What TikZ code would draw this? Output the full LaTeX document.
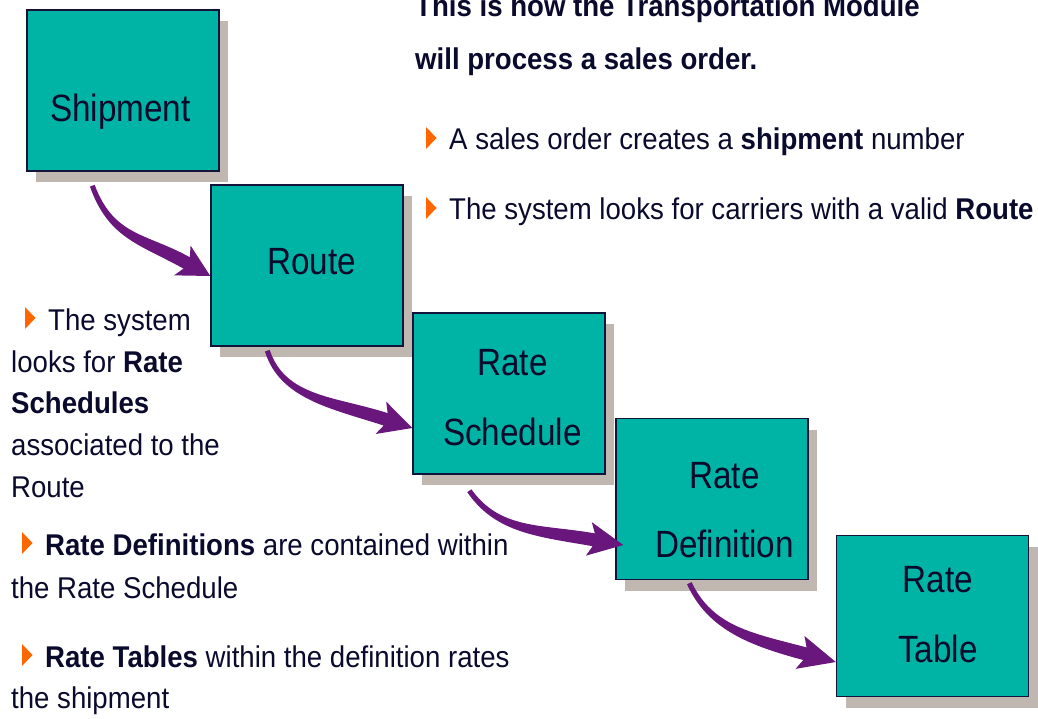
\documentclass[tikz,border=0pt]{standalone}
\usepackage{fontspec}
\setmainfont{Liberation Sans}[FakeStretch=0.92]
\newfontfamily\boxfont{Liberation Sans}[FakeStretch=0.875]
\usetikzlibrary{calc,shadows}
\definecolor{tealc}{RGB}{0,180,165}
\definecolor{shadowc}{RGB}{192,184,176}
\definecolor{arrowc}{RGB}{105,22,125}
\definecolor{edgec}{RGB}{18,18,58}
\definecolor{textc}{RGB}{10,10,45}
\definecolor{bulletc}{RGB}{255,102,0}

\tikzset{
  stepbox/.style={rectangle, draw=edgec, line width=1.4pt, fill=tealc,
    minimum width=192pt, minimum height=161pt, inner sep=0pt,
    drop shadow={shadow xshift=9pt, shadow yshift=-11pt, fill=shadowc, opacity=1}},
  boxtxt/.style={anchor=base, inner sep=0pt, text=textc, font=\boxfont\fontsize{38}{45}\selectfont},
  bodytxt/.style={anchor=base west, inner sep=0pt, text=textc, font=\fontsize{30}{36}\selectfont},
  titletxt/.style={anchor=base west, inner sep=0pt, text=textc, font=\bfseries\fontsize{30}{36}\selectfont},
}

% tapered curved arrow: #1 tail, #2 tip, #3 out angle, #4 tip direction, #5 L1, #6 L2, #7 head length
\newcommand\taperarrow[7]{%
  \coordinate (tA) at (#1);
  \coordinate (tB) at (#2);
  \coordinate (tH) at ($(tB)+(#4:-#7)$);
  \fill[arrowc]
    ($(tA)+(#3+90:2.5)$)
      .. controls ($(tA)+(#3:#5)+(#3+90:3)$) and ($(tH)+(#4:-#6)+(#4+90:6.5)$) .. ($(tH)+(#4+90:6.5)$)
    -- ($(tB)+(#4:-#7-5)+(#4+90:17)$)
    -- (tB)
    -- ($(tB)+(#4:-#7-5)+(#4-90:17)$)
    -- ($(tH)+(#4-90:6.5)$)
      .. controls ($(tH)+(#4:-#6)+(#4-90:6.5)$) and ($(tA)+(#3:#5)+(#3-90:3)$) .. ($(tA)+(#3-90:2.5)$)
    -- cycle;
}
\newcommand\bul[1]{\fill[bulletc] ($(#1.base west)+(-23,1)$) -- ++(0,22) -- ++(10.5,-11) -- cycle;}

\begin{document}
\begin{tikzpicture}[x=1pt,y=1pt]
\useasboundingbox (0,0) rectangle (1038,-719);

% boxes
\node[stepbox] (ship)  at (123,-90.5) {};
\node[stepbox] (route) at (307,-265.5) {};
\node[stepbox] (sched) at (509,-393.5) {};
\node[stepbox] (rdef)  at (712,-499) {};
\node[stepbox] (rtab)  at (932.5,-616) {};

% box texts
\node[boxtxt] (shiptxt)   at ($(ship.center)+(-2.5,-31.5)$) {Shipment};
\node[boxtxt] (routetxt)  at ($(route.center)+(4.5,-9.5)$) {Route};
\node[boxtxt] (schedtxta) at ($(sched.center)+(3.5,18.5)$) {Rate};
\node[boxtxt] (schedtxtb) at ($(sched.center)+(3.5,-51.5)$) {Schedule};
\node[boxtxt] (deftxta)   at ($(rdef.center)+(12.5,11)$) {Rate};
\node[boxtxt] (deftxtb)   at ($(rdef.center)+(12.5,-58)$) {Definition};
\node[boxtxt] (tabtxta)   at ($(rtab.center)+(5.5,24)$) {Rate};
\node[boxtxt] (tabtxtb)   at ($(rtab.center)+(5.5,-46)$) {Table};

% arrows
\taperarrow{$(ship.south west)+(66,-14)$}{$(route.west)+(0,-10.5)$}{-70}{-29}{55}{50}{27}
\taperarrow{$(route.south west)+(57,-4)$}{$(sched.west)+(0,-34.5)$}{-72}{-18}{50}{55}{28}
\taperarrow{$(sched.south west)+(57,-16)$}{$(rdef.west)+(8,-46)$}{-55}{-10}{50}{55}{30}
\taperarrow{$(rdef.south west)+(74,-3)$}{$(rtab.west)+(0,-46)$}{-65}{-15}{50}{55}{32}

% title
\node[titletxt] (title1) at (415,-17) {This is how the Transportation Module};
\node[titletxt] (title2) at (415,-70) {will process a sales order.};

% right bullets
\node[bodytxt] (r1) at (449,-150) {A sales order creates a \textbf{shipment} number};
\node[bodytxt] (r2) at (449,-220) {The system looks for carriers with a valid \textbf{Route}};
\bul{r1}
\bul{r2}

% left text
\node[bodytxt] (l1) at (48,-330) {The system};
\node[bodytxt] (l2) at (11,-372) {looks for \textbf{Rate}};
\node[bodytxt] (l3) at (11,-413) {\textbf{Schedules}};
\node[bodytxt] (l4) at (11,-455) {associated to the};
\node[bodytxt] (l5) at (11,-497) {Route};
\bul{l1}

\node[bodytxt] (l6) at (45,-555) {\textbf{Rate Definitions} are contained within};
\node[bodytxt] (l7) at (11,-598) {the Rate Schedule};
\bul{l6}

\node[bodytxt] (l8) at (45,-667) {\textbf{Rate Tables} within the definition rates};
\node[bodytxt] (l9) at (11,-708) {the shipment};
\bul{l8}
\end{tikzpicture}
\end{document}
